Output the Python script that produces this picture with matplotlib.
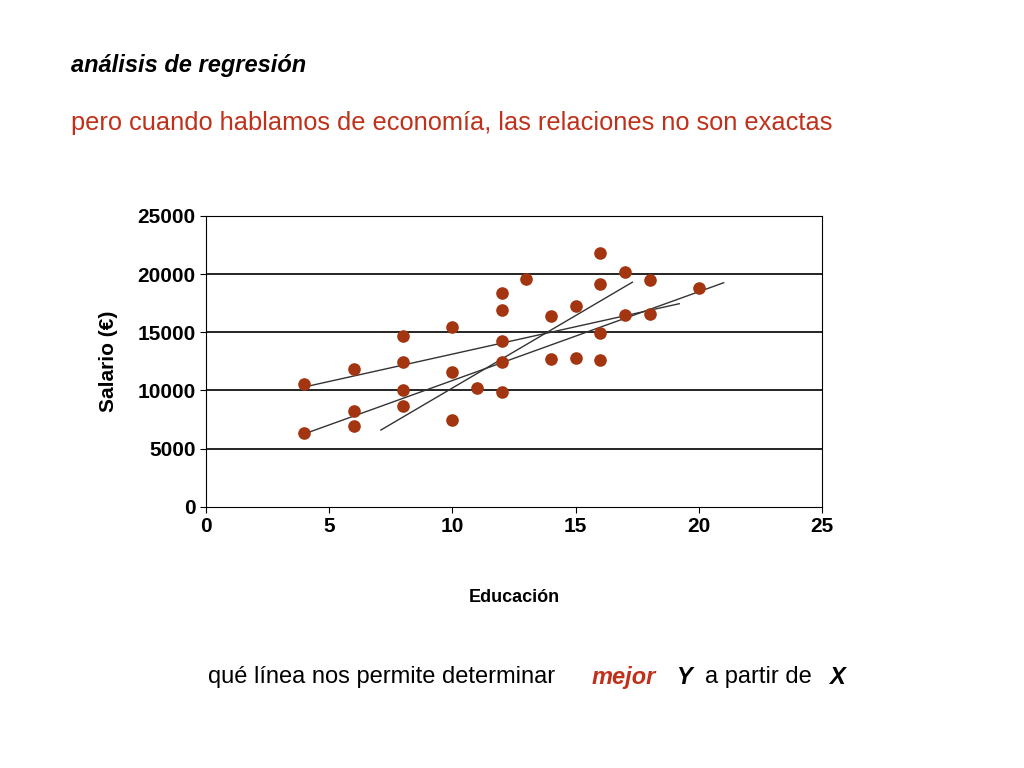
import matplotlib
matplotlib.use("Agg")
import matplotlib.pyplot as plt

# --- data ---
educacion = [4, 4, 6, 6, 6, 8, 8, 8, 8, 10, 10, 10, 11,
             12, 12, 12, 12, 12, 13, 14, 14, 15, 15,
             16, 16, 16, 16, 17, 17, 18, 18, 20]
salario = [10550, 6350, 11850, 8250, 6950, 14700, 12450, 10050, 8700,
           15450, 11600, 7500, 10200,
           18400, 16900, 14250, 12450, 9900, 19600, 16400, 12700, 17250, 12800,
           21800, 19150, 14950, 12650, 20200, 16500, 19500, 16600, 18800]

# candidate lines (start x, end x, start y, end y)
line_x = [[4.0, 19.2], [4.1, 21.0], [7.1, 17.3]]
line_y = [[10300, 17450], [6350, 19250], [6600, 19300]]

yticks = [0, 5000, 10000, 15000, 20000, 25000]
xticks = [0, 5, 10, 15, 20, 25]

fig = plt.figure(figsize=(10.24, 7.68), dpi=100)
plt.rcParams["font.family"] = "Liberation Sans"

fig.text(0.069, 0.915, "análisis de regresión", fontsize=17,
         fontweight="bold", fontstyle="italic", va="center")
fig.text(0.069, 0.840, "pero cuando hablamos de economía, las relaciones no son exactas",
         fontsize=18.3, color="#c0301a", va="center")

ax = fig.add_axes([0.201, 0.340, 0.602, 0.379])
for y in yticks[1:-1]:
    ax.axhline(y, color="black", lw=1.2, zorder=1)
for xs, ys in zip(line_x, line_y):
    ax.plot(xs, ys, color="#333333", lw=1, zorder=2)
ax.scatter(educacion, salario, s=65, color="#a33510", zorder=3)

ax.set_xlim(0, 25)
ax.set_ylim(0, 25000)
ax.set_xticks(xticks)
ax.set_yticks(yticks)
ax.tick_params(labelsize=15, length=4, direction="out")
for lab in ax.get_xticklabels() + ax.get_yticklabels():
    lab.set_fontweight("bold")
ax.set_xlabel("Educación", fontsize=13, fontweight="bold", labelpad=38)
ax.set_ylabel("Salario (€)", fontsize=15, fontweight="bold", labelpad=14)

fig.text(0.203, 0.118, "qué línea nos permite determinar ", fontsize=17, va="center")
fig.text(0.578, 0.118, "mejor", fontsize=17, va="center", color="#c0301a",
         fontweight="bold", fontstyle="italic")
fig.text(0.660, 0.118, "Y", fontsize=17, va="center", fontweight="bold", fontstyle="italic")
fig.text(0.688, 0.118, "a partir de ", fontsize=17, va="center")
fig.text(0.810, 0.118, "X", fontsize=17, va="center", fontweight="bold", fontstyle="italic")

fig.savefig("out.png", dpi=100)
